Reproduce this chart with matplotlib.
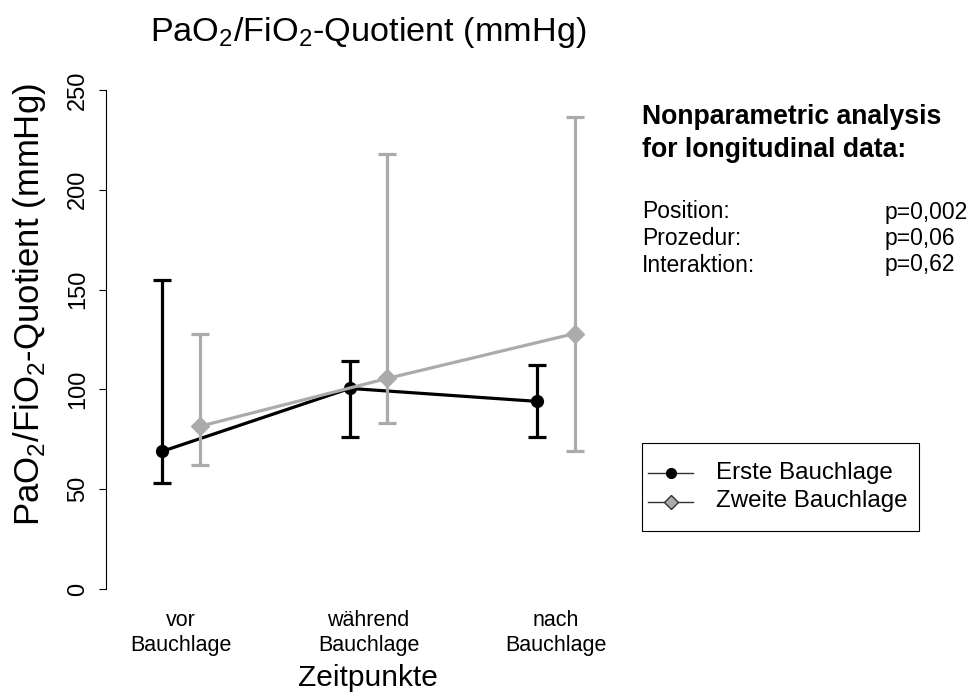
import matplotlib
matplotlib.use("Agg")
import matplotlib.pyplot as plt
from matplotlib.lines import Line2D
from matplotlib.patches import Rectangle
import numpy as np

plt.rcParams['font.family'] = ['Liberation Sans', 'DejaVu Sans']
plt.rcParams['mathtext.fontset'] = 'custom'
plt.rcParams['mathtext.rm'] = 'Liberation Sans'

### Data ######################################################################
zeitpunkte = ['vor\nBauchlage', 'während\nBauchlage', 'nach\nBauchlage']
erste_mean = [69, 100.5, 94]
erste_lo   = [53, 76, 76]
erste_hi   = [155, 114, 112]
zweite_mean = [81.5, 105.5, 128]
zweite_lo   = [62, 83, 69]
zweite_hi   = [128, 218, 236.5]
serien     = ['Erste Bauchlage', 'Zweite Bauchlage']
stat_names = ['Position:', 'Prozedur:', 'Interaktion:']
stat_p     = ['p=0,002', 'p=0,06', 'p=0,62']

GRAY = '#ababab'
W, H = 971, 692

def fx(px):                     # pixel -> figure fraction (x)
    return px / W
def fy(py):                     # pixel from top -> figure fraction (y)
    return 1 - py / H

### Figure ####################################################################
fig = plt.figure(figsize=(W/100, H/100), dpi=100)
ax = fig.add_axes([fx(106), fy(609), 514/W, 539/H])
ax.set_xlim(0.6, 3.341)
ax.set_ylim(-10, 260)

x = np.arange(1, 4)
off = 0.1

def err(m, lo, hi):
    m, lo, hi = map(np.asarray, (m, lo, hi))
    return [m - lo, hi - m]

ax.errorbar(x - off, erste_mean, yerr=err(erste_mean, erste_lo, erste_hi),
            color='black', lw=2.3, elinewidth=2.3, capsize=6.5, capthick=2.3,
            marker='o', markersize=8.5, zorder=2)
ax.errorbar(x + off, zweite_mean, yerr=err(zweite_mean, zweite_lo, zweite_hi),
            color=GRAY, lw=2.3, elinewidth=2.3, capsize=6.5, capthick=2.3,
            marker='D', markersize=9.5, zorder=3)

for s in ['top', 'right', 'bottom']:
    ax.spines[s].set_visible(False)
ax.spines['left'].set_bounds(0, 250)
ax.spines['left'].set_linewidth(0.8)
ax.set_yticks([0, 50, 100, 150, 200, 250])
ax.tick_params(axis='y', length=5, width=0.8, labelsize=17, pad=7)
for lab in ax.get_yticklabels():
    lab.set_rotation(90)
    lab.set_va('center')
ax.set_xticks(x)
ax.set_xticklabels(zeitpunkte, fontsize=15.5, linespacing=1.2)
ax.tick_params(axis='x', length=0, pad=1)

### Texts #####################################################################
fig.text(fx(368), fy(32), r'PaO$_2$/FiO$_2$-Quotient (mmHg)', fontsize=24.7,
         ha='center', va='center')
fig.text(fx(30), fy(305), r'PaO$_2$/FiO$_2$-Quotient (mmHg)', fontsize=25,
         ha='center', va='center', rotation=90)
fig.text(fx(368), fy(678), 'Zeitpunkte', fontsize=21.5, ha='center', va='center')

fig.text(fx(642), fy(117), 'Nonparametric analysis', fontsize=19.2,
         fontweight='bold', ha='left', va='center')
fig.text(fx(642), fy(150), 'for longitudinal data:', fontsize=19.2,
         fontweight='bold', ha='left', va='center')
for i, (nm, p) in enumerate(zip(stat_names, stat_p)):
    yy = fy(212 + i * 26.5)
    fig.text(fx(642), yy, nm, fontsize=16.5, ha='left', va='center')
    fig.text(fx(885), yy, p, fontsize=16.5, ha='left', va='center')

### Legend (drawn by hand) ####################################################
fig.patches.append(Rectangle((fx(642), fy(531)), 277/W, 88/H, transform=fig.transFigure,
                             facecolor='white', edgecolor='black', lw=0.8))
leg_styles = [dict(marker='o', markersize=7, markerfacecolor='black',
                   markeredgecolor='black'),
              dict(marker='D', markersize=7.5, markerfacecolor=GRAY,
                   markeredgecolor='#333333')]
for i, (nm, st) in enumerate(zip(serien, leg_styles)):
    yy = fy(473 + i * 28.5)
    fig.add_artist(Line2D([fx(648), fx(693)], [yy, yy], color='#333333', lw=1,
                          transform=fig.transFigure))
    fig.add_artist(Line2D([fx(670.5)], [yy], lw=0, transform=fig.transFigure, **st))
    fig.text(fx(716), yy, nm, fontsize=17.4, ha='left', va='center')

fig.savefig('out.png', dpi=100)
